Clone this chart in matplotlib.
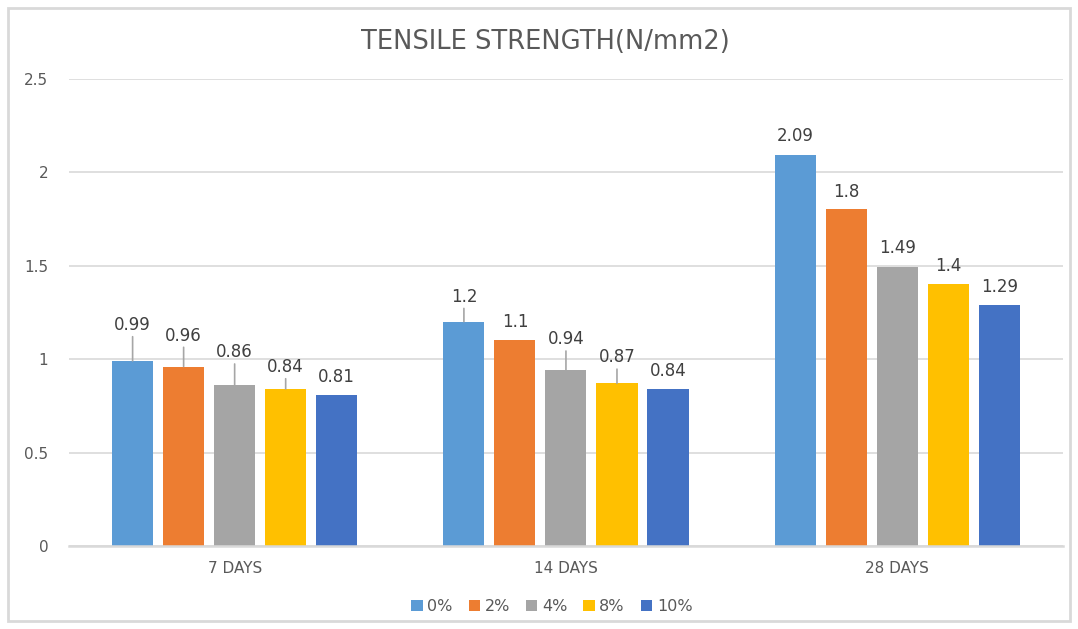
import matplotlib
matplotlib.use("Agg")
import matplotlib.pyplot as plt
from matplotlib.patches import Rectangle
import numpy as np

plt.rcParams['font.family'] = ['DejaVu Sans']

categories = ["7 DAYS", "14 DAYS", "28 DAYS"]
series_names = ["0%", "2%", "4%", "8%", "10%"]
values = [
    [0.99, 1.2, 2.09],   # 0%
    [0.96, 1.1, 1.8],    # 2%
    [0.86, 0.94, 1.49],  # 4%
    [0.84, 0.87, 1.4],   # 8%
    [0.81, 0.84, 1.29],  # 10%
]
colors = ["#5B9BD5", "#ED7D31", "#A5A5A5", "#FFC000", "#4472C4"]

# label lift above bar top, pixels (Excel moved some labels, with leader lines)
label_lift = [
    [36, 25, 19],
    [31, 18, 17],
    [33, 31, 19],
    [22, 26, 18],
    [18, 18, 18],
]

txt = "#595959"
grid = "#D9D9D9"

fig = plt.figure(figsize=(10.78, 6.29), dpi=100)
ax = fig.add_axes([0.064, 0.132, 0.922, 0.743])

x = np.arange(len(categories))
pitch = 0.154
width = 0.124
n = len(series_names)

for i, (name, vals, col) in enumerate(zip(series_names, values, colors)):
    xs = x + (i - (n - 1) / 2) * pitch
    ax.bar(xs, vals, width=width, color=col, label=name, zorder=3)
    for xi, v, lift in zip(xs, vals, label_lift[i]):
        props = None
        if lift > 21:
            props = dict(arrowstyle='-', color="#A6A6A6", lw=1.2,
                         shrinkA=0, shrinkB=0)
        ax.annotate(f"{v:g}", (xi, v), xytext=(0, lift),
                    textcoords='offset pixels', ha='center', va='center',
                    fontsize=12, color="#404040", arrowprops=props, zorder=4)

ax.set_xlim(-0.5, len(categories) - 0.5)
ax.set_ylim(0, 2.5)
ax.set_yticks([0, 0.5, 1, 1.5, 2, 2.5])
ax.set_yticklabels(["0", "0.5", "1", "1.5", "2", "2.5"])
ax.set_xticks(x)
ax.set_xticklabels(categories)
ax.tick_params(axis='both', length=0, labelsize=11, labelcolor=txt)
ax.tick_params(axis='y', pad=15)
ax.tick_params(axis='x', pad=11)
ax.yaxis.grid(True, color=grid, lw=1.2, zorder=0)
ax.set_axisbelow(True)
for s in ["top", "right", "left"]:
    ax.spines[s].set_visible(False)
ax.spines["bottom"].set_color(grid)
ax.spines["bottom"].set_linewidth(1.8)
ax.spines["bottom"].set_zorder(5)

fig.text(0.506, 0.933, "TENSILE STRENGTH(N/mm2)", ha='center', va='center',
         fontsize=18.5, color=txt)

fig.legend(loc='center', bbox_to_anchor=(0.512, 0.035), ncol=5, frameon=False,
           fontsize=11.5, handlelength=0.7, handleheight=0.7, handletextpad=0.3,
           columnspacing=1.0, labelcolor=txt)

fig.patches.append(Rectangle((0.0074, 0.0127), 0.985, 0.9746, transform=fig.transFigure,
                             fill=False, edgecolor=grid, lw=2))

fig.savefig("out.png", dpi=100)
